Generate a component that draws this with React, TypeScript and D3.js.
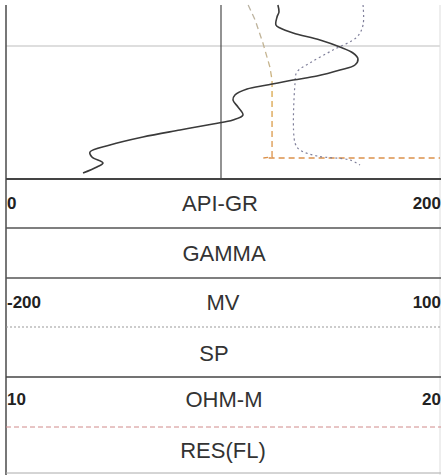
import React from "react";
import * as d3 from "d3";

// Depth (ft) of each sample, per curve
const grDepth = [1002.5, 1006, 1008.5, 1012.5, 1014, 1016.5, 1020, 1023.5, 1026.5, 1029.5, 1032.5, 1035, 1038, 1040, 1042.5, 1044.5, 1047.5, 1050, 1053.5, 1057.5, 1060, 1062, 1065, 1068.5, 1072.5, 1076, 1078.5, 1081.5, 1083.5, 1086.5];
const grValues = [125.3, 125.8, 124.9, 124.4, 126.3, 132.3, 144.7, 153.9, 159.9, 162.2, 160.8, 153.9, 143.3, 132.3, 120.3, 111.1, 105.5, 104.6, 106.9, 109.2, 104.6, 95.4, 80.2, 63.1, 47.9, 38.7, 39.6, 44.7, 41.9, 35.5];

const spDepth = [1002.5, 1012.5, 1018.5, 1025, 1031.5, 1036, 1041.5, 1071.5, 1075, 1078, 1080, 1082.5];
const spValues = [46.8, 46.8, 42.6, 26.0, 10.1, 1.1, -0.2, -0.2, 3.2, 15.0, 37.8, 44.7];

const resDepth = [1002.5, 1010, 1021.5, 1033.5, 1040, 1078.5, 1079, 1079];
const resValues = [15.58, 15.74, 15.92, 16.08, 16.13, 16.13, 15.93, 20];

const gridDepths = [1023];
const depthDomain = [1000, 1089.5];

const grDomain = [0, 200];
const spDomain = [-200, 100];
const resDomain = [10, 20];

const headerTitles = ["API-GR", "GAMMA", "MV", "SP", "OHM-M", "RES(FL)"];
const leftTicks = ["0", "", "-200", "", "10", ""];
const rightTicks = ["200", "", "100", "", "20", ""];

export default function App() {
  const W = 441;
  const H = 475;
  const x0 = 6;
  const x1 = 440;
  const xMid = 221;
  const y = d3.scaleLinear().domain(depthDomain).range([0, 179]);
  const xGR = d3.scaleLinear().domain(grDomain).range([x0, x1]);
  const xSP = d3.scaleLinear().domain(spDomain).range([x0, x1]);
  const xRES = d3.scaleLinear().domain(resDomain).range([x0, x1]);

  const grLine = d3
    .line<number>()
    .x((d) => xGR(d))
    .y((_, i) => y(grDepth[i]))
    .curve(d3.curveCatmullRom.alpha(0.5));
  const spLine = d3
    .line<number>()
    .x((d) => xSP(d))
    .y((_, i) => y(spDepth[i]))
    .curve(d3.curveCatmullRom.alpha(0.5));
  const resLine = d3
    .line<number>()
    .x((d) => xRES(d))
    .y((_, i) => y(resDepth[i]));

  const rowCenters = [203, 253, 302.5, 353, 399, 450];
  const titleX = [220, 224, 223, 214, 224, 223];

  const font = "'Liberation Sans', Arial, sans-serif";

  return (
    <svg
      width={W}
      height={H}
      style={{ position: "absolute", left: 0, top: 0, background: "#fff" }}
    >
      <defs>
        <linearGradient id="resGrad" gradientUnits="userSpaceOnUse" x1="0" y1="0" x2="0" y2="179">
          <stop offset="0" stopColor="#b9b3a6" />
          <stop offset="0.4" stopColor="#c8b48a" />
          <stop offset="0.5" stopColor="#d9a84a" />
          <stop offset="1" stopColor="#dc8a4a" />
        </linearGradient>
      </defs>
      <rect x={0} y={0} width={W} height={H} fill="#fff" />
      {/* track grid */}
      {gridDepths.map((d) => (
        <line key={d} x1={x0} x2={x1} y1={y(d)} y2={y(d)} stroke="#bdbdbd" strokeWidth={1} />
      ))}
      <line x1={xMid} x2={xMid} y1={5} y2={179} stroke="#4a4a4a" strokeWidth={1.2} />
      <line x1={x0} x2={x0} y1={5} y2={475} stroke="#555" strokeWidth={1.6} />
      <line x1={x1} x2={x1} y1={5} y2={475} stroke="#ddd" strokeWidth={1} />

      {/* curves */}
      <path d={resLine(resValues) || ""} fill="none" stroke="url(#resGrad)" strokeWidth={1.3} strokeDasharray="6,4" />
      <path d={spLine(spValues) || ""} fill="none" stroke="#7f7f9a" strokeWidth={1.2} strokeDasharray="2,3" />
      <path d={grLine(grValues) || ""} fill="none" stroke="#3a3a3a" strokeWidth={1.6} />

      {/* header separators */}
      <line x1={x0} x2={W} y1={179} y2={179} stroke="#444" strokeWidth={2} />
      <line x1={x0} x2={W} y1={228} y2={228} stroke="#555" strokeWidth={1.4} />
      <line x1={x0} x2={W} y1={278} y2={278} stroke="#555" strokeWidth={1.4} />
      <line x1={x0} x2={W} y1={327} y2={327} stroke="#999" strokeWidth={1} strokeDasharray="2,2" />
      <line x1={x0} x2={W} y1={377} y2={377} stroke="#444" strokeWidth={1.5} />
      <line x1={x0} x2={W} y1={427} y2={427} stroke="#d08a8a" strokeWidth={1} strokeDasharray="5,3" />
      <line x1={x0} x2={W} y1={473} y2={473} stroke="#aaa" strokeWidth={1} />

      {headerTitles.map((t, i) => (
        <text
          key={t}
          x={titleX[i]}
          y={rowCenters[i]}
          textAnchor="middle"
          dominantBaseline="central"
          fontFamily={font}
          fontSize={22}
          fill="#333"
        >
          {t}
        </text>
      ))}
      {leftTicks.map((t, i) =>
        t ? (
          <text
            key={"l" + i}
            x={7}
            y={rowCenters[i]}
            dominantBaseline="central"
            fontFamily={font}
            fontSize={17}
            fontWeight="bold"
            fill="#222"
          >
            {t}
          </text>
        ) : null
      )}
      {rightTicks.map((t, i) =>
        t ? (
          <text
            key={"r" + i}
            x={441}
            y={rowCenters[i]}
            textAnchor="end"
            dominantBaseline="central"
            fontFamily={font}
            fontSize={17}
            fontWeight="bold"
            fill="#222"
          >
            {t}
          </text>
        ) : null
      )}
    </svg>
  );
}
